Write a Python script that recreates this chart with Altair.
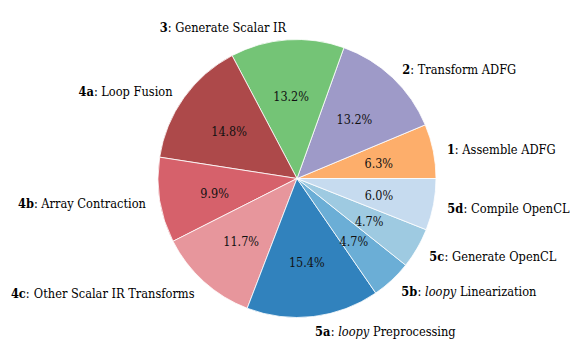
import math
import altair as alt
import pandas as pd

# ---- data ----
ids = ["1", "2", "3", "4a", "4b", "4c", "5a", "5b", "5c", "5d"]
italic_words = ["", "", "", "", "", "", "loopy", "loopy", "", ""]
names = ["Assemble ADFG", "Transform ADFG", "Generate Scalar IR", "Loop Fusion",
         "Array Contraction", "Other Scalar IR Transforms", "Preprocessing",
         "Linearization", "Generate OpenCL", "Compile OpenCL"]
shares = [6.3, 13.2, 13.2, 14.8, 9.9, 11.7, 15.4, 4.7, 4.7, 6.0]
colors = ["#fdae6b", "#9e9ac8", "#74c476", "#ad494a", "#d6616b", "#e7969c",
          "#3182bd", "#6baed6", "#9ecae1", "#c6dbef"]

FONT = "DejaVu Serif Condensed"
LABEL_SIZE = 12.7
PCT_SIZE = 12.5
R = 139
CX, CY = 289, 170.5
COND = 0.9
DY = 2

total = sum(shares)
df = pd.DataFrame({
    "idx": list(range(len(ids))),
    "key": ids,
    "value": shares,
    "pct": [f"{v:.1f}%" for v in shares],
})

# approximate DejaVu Serif advance widths (per 1000 em)
REG = {" ": 318, ":": 337, ".": 318, "%": 950,
       "A": 722, "C": 734, "D": 830, "F": 683, "G": 811, "I": 365, "L": 649,
       "O": 820, "P": 733, "R": 770, "S": 685, "T": 704,
       "a": 596, "b": 640, "c": 560, "d": 640, "e": 592, "f": 370, "g": 640,
       "h": 644, "i": 320, "l": 320, "m": 948, "n": 644, "o": 602, "p": 640,
       "r": 478, "s": 513, "t": 402, "u": 644, "y": 565, "z": 527, "x": 565,
       "v": 565, "w": 856}
BOLD = {"a": 675, "b": 735, "c": 639, "d": 735}
ITAL = {"l": 320, "o": 602, "p": 640, "y": 565}


def tw(text, style="normal"):
    tot = 0
    for ch in text:
        if ch.isdigit():
            tot += 696 if style == "bold" else 636
        elif style == "bold" and ch in BOLD:
            tot += BOLD[ch]
        elif style == "italic" and ch in ITAL:
            tot += ITAL[ch]
        else:
            tot += REG.get(ch, 600)
    return tot * COND * LABEL_SIZE / 1000.0


scale = alt.Scale(domain=[0, total], range=[2.5 * math.pi, 0.5 * math.pi])

base = alt.Chart(df).transform_window(
    cum="sum(value)", sort=[alt.SortField("idx")], frame=[None, 0]
).transform_calculate(
    start="datum.cum - datum.value", mid="datum.cum - datum.value / 2"
)

arcs = base.mark_arc(outerRadius=R, stroke="white", strokeWidth=0.8).encode(
    theta=alt.Theta("start:Q", scale=scale),
    theta2="cum:Q",
    color=alt.Color("key:N", scale=alt.Scale(domain=ids, range=colors), legend=None),
    x=alt.value(CX), y=alt.value(CY),
)

pct = base.mark_text(radius=0.6 * R, font=FONT, fontSize=PCT_SIZE, color="#111111",
                     align="center", baseline="middle", dy=DY).encode(
    theta=alt.Theta("mid:Q", scale=scale, stack=None),
    text="pct:N",
    x=alt.value(CX), y=alt.value(CY),
)

layers = [arcs, pct]
cum = 0.0
for i, key in enumerate(ids):
    mid = cum + shares[i] / 2
    cum += shares[i]
    ang = 2 * math.pi * mid / total
    right = math.cos(ang) > 0
    segs = [(key, "bold", 0.0), (":", "normal", 0.0)]
    gap = REG[" "] * COND * LABEL_SIZE / 1000.0
    if italic_words[i]:
        segs.append((italic_words[i], "italic", gap))
    segs.append((names[i], "normal", gap))
    if right:
        pos = 0.0
        dxs = []
        for text, style, pre in segs:
            pos += pre
            dxs.append(pos)
            pos += tw(text, style)
        align = "left"
    else:
        pos = 0.0
        dxs = [0.0] * len(segs)
        for k in range(len(segs) - 1, -1, -1):
            text, style, pre = segs[k]
            dxs[k] = -pos
            pos += tw(text, style) + pre
        align = "right"
    for (text, style, pre), dx in zip(segs, dxs):
        kw = dict(radius=1.1 * R, font=FONT, fontSize=LABEL_SIZE, color="black",
                  align=align, baseline="middle", dx=dx, dy=DY)
        if style == "bold":
            kw["fontWeight"] = "bold"
        if style == "italic":
            kw["fontStyle"] = "italic"
        layers.append(
            base.transform_filter(f"datum.idx == {i}").mark_text(**kw).encode(
                theta=alt.Theta("mid:Q", scale=scale, stack=None),
                text=alt.value(text),
                x=alt.value(CX), y=alt.value(CY),
            )
        )

chart = alt.layer(*layers).properties(
    width=567, height=343, padding=0,
    autosize=alt.AutoSizeParams(type="none"),
).configure_view(stroke=None)

chart.save("out.html", embed_options={"renderer": "svg", "actions": False})
